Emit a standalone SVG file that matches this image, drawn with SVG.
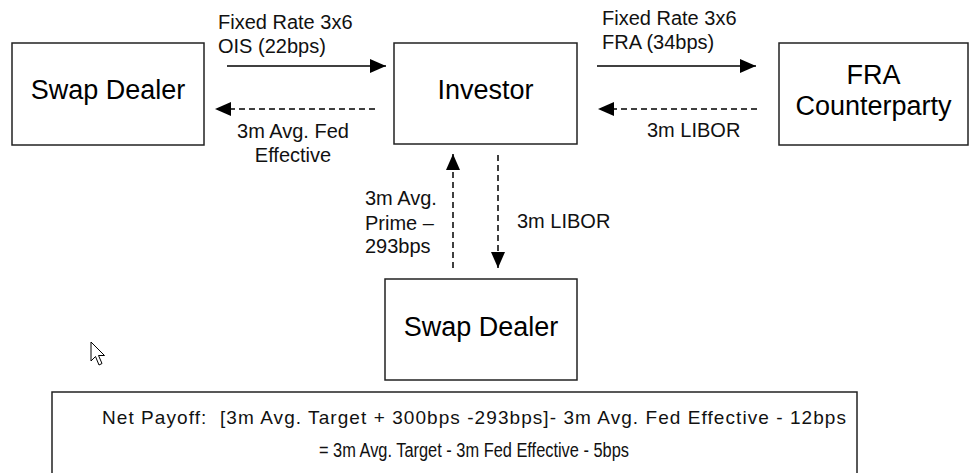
<svg xmlns="http://www.w3.org/2000/svg" width="971" height="473" viewBox="0 0 971 473">
<defs>
<marker id="ah" viewBox="0 0 16 14" refX="16" refY="7" markerWidth="16" markerHeight="14" markerUnits="userSpaceOnUse" orient="auto">
<path d="M0,0 L16,7 L0,14 Z" fill="#000"/>
</marker>
<style>
.box{fill:#fff;stroke:#222;stroke-width:1.5}
.node{font-family:"Liberation Sans",Arial,sans-serif;font-size:27px;fill:#000;text-anchor:middle}
.lbl{font-family:"Liberation Sans",Arial,sans-serif;font-size:20px;fill:#111}
.solid{stroke:#000;stroke-width:1.5;fill:none;marker-end:url(#ah)}
.dash{stroke:#000;stroke-width:1.5;fill:none;stroke-dasharray:6 4;marker-end:url(#ah)}
.note{font-family:"Liberation Sans",Arial,sans-serif;font-size:19px;fill:#111;white-space:pre}
</style>
</defs>
<rect width="971" height="473" fill="#fff"/>
<g id="swap-dealer-left">
<rect class="box" x="12" y="43" width="192" height="102"/>
<text class="node" x="108" y="99">Swap Dealer</text>
</g>
<g id="investor">
<rect class="box" x="394" y="43" width="183" height="101"/>
<text class="node" x="485.5" y="99">Investor</text>
</g>
<g id="fra-counterparty">
<rect class="box" x="779" y="43" width="189" height="102"/>
<text class="node" x="873.5" y="84">FRA</text>
<text class="node" x="873.5" y="115">Counterparty</text>
</g>
<g id="swap-dealer-bottom">
<rect class="box" x="385" y="279" width="192" height="101"/>
<text class="node" x="481" y="336">Swap Dealer</text>
</g>
<g id="connectors">
<line class="solid" x1="227" y1="66" x2="386" y2="66"/>
<line class="dash" x1="375" y1="109" x2="215" y2="109"/>
<line class="solid" x1="597" y1="66" x2="756" y2="66"/>
<line class="dash" x1="757" y1="109" x2="598" y2="109"/>
<line class="dash" x1="453" y1="268" x2="453" y2="154"/>
<line class="dash" x1="498" y1="155" x2="498" y2="268"/>
</g>
<g id="labels">
<text class="lbl" x="218" y="29">Fixed Rate 3x6</text>
<text class="lbl" x="218" y="53">OIS (22bps)</text>
<text class="lbl" x="293" y="138" text-anchor="middle">3m Avg. Fed</text>
<text class="lbl" x="293" y="162" text-anchor="middle">Effective</text>
<text class="lbl" x="602" y="25">Fixed Rate 3x6</text>
<text class="lbl" x="602" y="49">FRA (34bps)</text>
<text class="lbl" x="647" y="137">3m LIBOR</text>
<text class="lbl" x="365" y="205">3m Avg.</text>
<text class="lbl" x="365" y="230">Prime –</text>
<text class="lbl" x="365" y="253">293bps</text>
<text class="lbl" x="517" y="228">3m LIBOR</text>
</g>
<g id="cursor">
<path d="M91,342 L91,361 L95.5,356.5 L99,365 L102,363.5 L98.5,355.5 L104.5,355.5 Z" fill="#fff" stroke="#000" stroke-width="1" stroke-linejoin="round"/>
</g>
<g id="net-payoff">
<rect class="box" x="52" y="392" width="805" height="82"/>
<text class="note" x="102" y="424" textLength="744" lengthAdjust="spacing" xml:space="preserve">Net Payoff:  [3m Avg. Target + 300bps -293bps]- 3m Avg. Fed Effective - 12bps</text>
<text class="note" x="319" y="457" style="font-size:20px" textLength="310" lengthAdjust="spacingAndGlyphs">= 3m Avg. Target - 3m Fed Effective - 5bps</text>
</g>
</svg>
